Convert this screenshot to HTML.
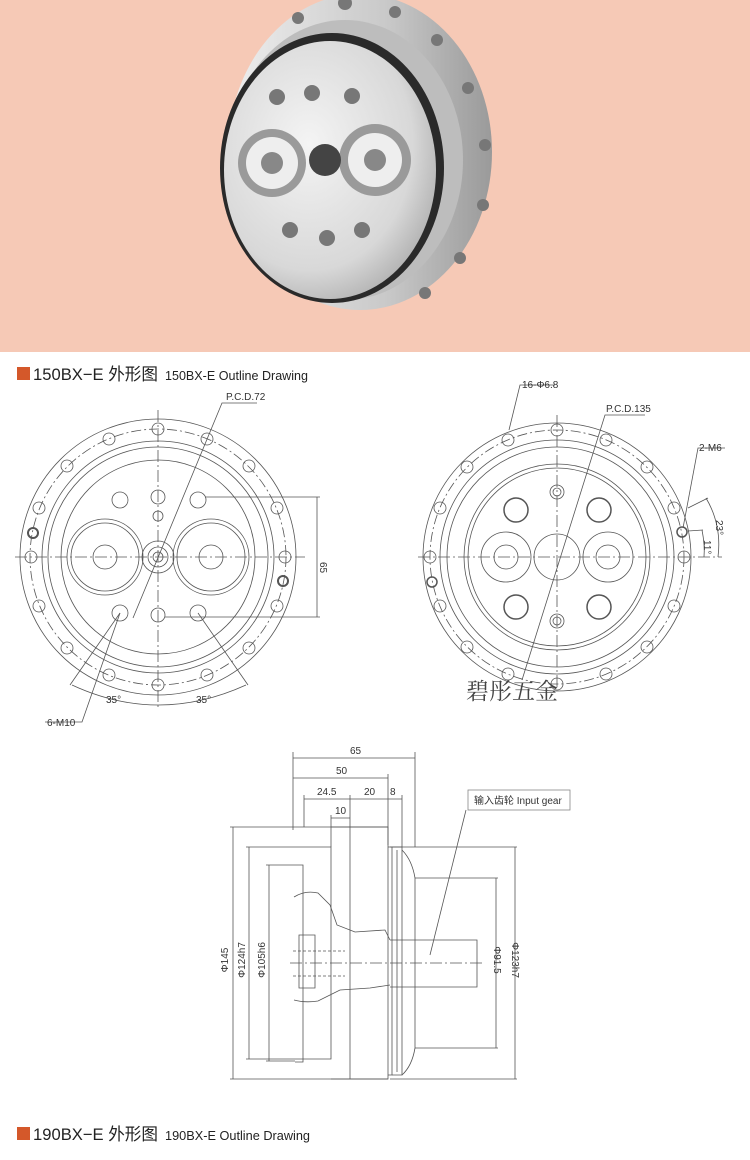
<!DOCTYPE html>
<html><head><meta charset="utf-8"><style>
body{margin:0;width:750px;height:1160px;background:#fff;overflow:hidden;font-family:"Liberation Sans","Noto Sans CJK SC",sans-serif}
svg{position:absolute;left:0;top:0}
</style></head><body>
<svg width="750" height="1160" viewBox="0 0 750 1160" font-family="Liberation Sans, Noto Sans CJK SC, sans-serif">
<defs>
<radialGradient id="met" cx="0.4" cy="0.4" r="0.7"><stop offset="0" stop-color="#f4f4f4"/><stop offset="0.7" stop-color="#d8d8d8"/><stop offset="1" stop-color="#a8a8a8"/></radialGradient>
<linearGradient id="fl" x1="0" x2="1"><stop offset="0" stop-color="#eee"/><stop offset="0.6" stop-color="#c9c9c9"/><stop offset="1" stop-color="#9a9a9a"/></linearGradient>
</defs>
<rect x="0" y="0" width="750" height="352" fill="#f6c9b6"/>
<ellipse cx="360" cy="152" rx="132" ry="158" fill="url(#fl)"/>
<ellipse cx="345" cy="160" rx="118" ry="140" fill="#bdbdbd"/>
<ellipse cx="332" cy="168" rx="112" ry="135" fill="#2a2a2a"/>
<ellipse cx="330" cy="170" rx="106" ry="129" fill="url(#met)"/>
<g fill="#777">
<circle cx="345" cy="3" r="7"/><circle cx="395" cy="12" r="6"/><circle cx="437" cy="40" r="6"/><circle cx="468" cy="88" r="6"/><circle cx="485" cy="145" r="6"/><circle cx="483" cy="205" r="6"/><circle cx="460" cy="258" r="6"/><circle cx="425" cy="293" r="6"/><circle cx="298" cy="18" r="6"/>
<circle cx="277" cy="97" r="8"/><circle cx="312" cy="93" r="8"/><circle cx="352" cy="96" r="8"/>
<circle cx="290" cy="230" r="8"/><circle cx="327" cy="238" r="8"/><circle cx="362" cy="230" r="8"/>
</g>
<circle cx="272" cy="163" r="34" fill="#9a9a9a"/><circle cx="272" cy="163" r="26" fill="#eee"/><circle cx="272" cy="163" r="11" fill="#888"/>
<circle cx="375" cy="160" r="36" fill="#9a9a9a"/><circle cx="375" cy="160" r="27" fill="#eee"/><circle cx="375" cy="160" r="11" fill="#888"/>
<circle cx="325" cy="160" r="16" fill="#444"/>
<!-- title 1 -->
<rect x="17" y="367" width="13" height="13" fill="#d4582a"/>
<text x="33" y="380" font-size="17" fill="#222" textLength="125" lengthAdjust="spacingAndGlyphs">150BX−E 外形图</text>
<text x="165" y="380" font-size="13" fill="#222" textLength="143" lengthAdjust="spacingAndGlyphs">150BX-E Outline Drawing</text>
<!-- left drawing -->
<g fill="none" stroke="#555" stroke-width="0.8">
<circle cx="158" cy="557" r="138"/><circle cx="158" cy="557" r="128" stroke-dasharray="10 3 2 3"/><circle cx="158" cy="557" r="116"/><circle cx="158" cy="557" r="110"/><circle cx="158" cy="557" r="97"/>
<circle cx="105" cy="557" r="38"/><circle cx="105" cy="557" r="34"/><circle cx="211" cy="557" r="38"/><circle cx="211" cy="557" r="34"/><circle cx="105" cy="557" r="12"/><circle cx="211" cy="557" r="12"/>
<circle cx="158" cy="557" r="16"/><circle cx="158" cy="557" r="10"/><circle cx="158" cy="557" r="5"/>
<circle cx="120" cy="500" r="8"/><circle cx="198" cy="500" r="8"/><circle cx="120" cy="613" r="8"/><circle cx="198" cy="613" r="8"/><circle cx="158" cy="497" r="7"/><circle cx="158" cy="615" r="7"/><circle cx="158" cy="516" r="5"/>
<circle cx="158" cy="429" r="6"/><circle cx="158" cy="685" r="6"/><circle cx="109" cy="439" r="6"/><circle cx="207" cy="439" r="6"/><circle cx="67" cy="466" r="6"/><circle cx="249" cy="466" r="6"/><circle cx="39" cy="508" r="6"/><circle cx="277" cy="508" r="6"/><circle cx="39" cy="606" r="6"/><circle cx="277" cy="606" r="6"/><circle cx="67" cy="648" r="6"/><circle cx="249" cy="648" r="6"/><circle cx="109" cy="675" r="6"/><circle cx="207" cy="675" r="6"/><circle cx="31" cy="557" r="6"/><circle cx="285" cy="557" r="6"/>
<circle cx="33" cy="533" r="5" stroke-width="2"/><circle cx="283" cy="581" r="5" stroke-width="2"/>
<line x1="15" y1="557" x2="305" y2="557" stroke-dasharray="12 3 2 3"/><line x1="158" y1="410" x2="158" y2="710" stroke-dasharray="12 3 2 3"/>
<line x1="205" y1="497" x2="320" y2="497"/><line x1="165" y1="617" x2="320" y2="617"/><line x1="317" y1="497" x2="317" y2="617"/>
<polyline points="257,403 222,403 133,618"/>
<line x1="70" y1="685" x2="120" y2="613"/><line x1="248" y1="685" x2="198" y2="613"/>
<path d="M72,685 Q158,725 246,685"/>
<polyline points="45,722 82,722 120,613"/>
</g>
<text x="226" y="400" font-size="10" fill="#333">P.C.D.72</text>
<text x="320" y="562" font-size="10" fill="#333" transform="rotate(90 320 562)">65</text>
<text x="106" y="703" font-size="10" fill="#333">35°</text><text x="196" y="703" font-size="10" fill="#333">35°</text>
<text x="47" y="726" font-size="10" fill="#333">6-M10</text>
<!-- right drawing -->
<g fill="none" stroke="#555" stroke-width="0.8">
<circle cx="557" cy="557" r="134"/><circle cx="557" cy="557" r="127" stroke-dasharray="10 3 2 3"/><circle cx="557" cy="557" r="117"/><circle cx="557" cy="557" r="110"/><circle cx="557" cy="557" r="93"/><circle cx="557" cy="557" r="89"/>
<circle cx="506" cy="557" r="25"/><circle cx="608" cy="557" r="25"/><circle cx="557" cy="557" r="23"/><circle cx="506" cy="557" r="12"/><circle cx="608" cy="557" r="12"/>
<circle cx="516" cy="510" r="12" stroke-width="1.5"/><circle cx="599" cy="510" r="12" stroke-width="1.5"/><circle cx="516" cy="607" r="12" stroke-width="1.5"/><circle cx="599" cy="607" r="12" stroke-width="1.5"/>
<circle cx="557" cy="492" r="7"/><circle cx="557" cy="492" r="4"/><circle cx="557" cy="621" r="7"/><circle cx="557" cy="621" r="4"/>
<circle cx="557" cy="430" r="6"/><circle cx="557" cy="684" r="6"/><circle cx="508" cy="440" r="6"/><circle cx="606" cy="440" r="6"/><circle cx="467" cy="467" r="6"/><circle cx="647" cy="467" r="6"/><circle cx="440" cy="508" r="6"/><circle cx="674" cy="508" r="6"/><circle cx="430" cy="557" r="6"/><circle cx="684" cy="557" r="6"/><circle cx="440" cy="606" r="6"/><circle cx="674" cy="606" r="6"/><circle cx="467" cy="647" r="6"/><circle cx="647" cy="647" r="6"/><circle cx="508" cy="674" r="6"/><circle cx="606" cy="674" r="6"/>
<circle cx="682" cy="532" r="5" stroke-width="1.5"/><circle cx="432" cy="582" r="5" stroke-width="1.5"/>
<line x1="418" y1="557" x2="722" y2="557" stroke-dasharray="12 3 2 3"/><line x1="557" y1="415" x2="557" y2="690" stroke-dasharray="12 3 2 3"/>
<polyline points="555,385 520,385 509,430"/>
<polyline points="645,415 605,415 522,680"/>
<polyline points="725,448 698,448 683,528"/>
<line x1="688" y1="508" x2="708" y2="498"/><line x1="688" y1="531" x2="703" y2="530"/>
<path d="M706,498 Q722,525 718,557"/><path d="M702,530 Q705,545 704,557"/>
</g>
<text x="522" y="388" font-size="10" fill="#333">16-Φ6.8</text>
<text x="606" y="412" font-size="10" fill="#333">P.C.D.135</text>
<text x="699" y="451" font-size="10" fill="#333">2-M6</text>
<text x="716" y="520" font-size="10" fill="#333" transform="rotate(90 716 520)">23°</text>
<text x="704" y="540" font-size="10" fill="#333" transform="rotate(90 704 540)">11°</text>
<text x="466" y="699" font-size="23" fill="#444" font-family="Noto Serif CJK SC, serif">碧彤五金</text>
<!-- side view -->
<g fill="none" stroke="#555" stroke-width="0.8">
<!-- dimension lines -->
<line x1="293" y1="752" x2="293" y2="830"/><line x1="415" y1="752" x2="415" y2="847"/>
<line x1="293" y1="758" x2="415" y2="758"/>
<line x1="293" y1="778" x2="388" y2="778"/><line x1="388" y1="774" x2="388" y2="845"/>
<line x1="304" y1="799" x2="402" y2="799"/><line x1="304" y1="795" x2="304" y2="827"/><line x1="350" y1="795" x2="350" y2="827"/><line x1="402" y1="795" x2="402" y2="847"/>
<line x1="331" y1="818" x2="350" y2="818"/><line x1="331" y1="815" x2="331" y2="847"/>
<line x1="230" y1="827" x2="388" y2="827"/><line x1="230" y1="1079" x2="388" y2="1079"/><line x1="233" y1="827" x2="233" y2="1079"/>
<line x1="246" y1="847" x2="303" y2="847"/><line x1="246" y1="1059" x2="303" y2="1059"/><line x1="249" y1="847" x2="249" y2="1059"/>
<line x1="266" y1="865" x2="295" y2="865"/><line x1="266" y1="1061" x2="295" y2="1061"/><line x1="269" y1="865" x2="269" y2="1061"/>
<line x1="390" y1="847" x2="517" y2="847"/><line x1="390" y1="1079" x2="517" y2="1079"/><line x1="515" y1="847" x2="515" y2="1079"/>
<line x1="415" y1="878" x2="498" y2="878"/><line x1="415" y1="1048" x2="498" y2="1048"/><line x1="496" y1="878" x2="496" y2="1048"/>
<!-- body -->
<path d="M295,865 H303 V1062 H295"/>
<path d="M303,847 H331 V1059 H303"/>
<path d="M331,827 H350 V1079 H331"/>
<path d="M350,827 H388 V1079 H350"/>
<path d="M388,847 H392 V1075 H388"/>
<path d="M392,847 H402 V1075 H392"/><path d="M397,850 V1072"/>
<path d="M402,850 Q412,860 415,878 V1048 Q412,1066 402,1075"/>
<!-- gear/shaft profile -->
<path d="M294,897 Q305,890 318,893 L330,905 L337,925 L355,932 L385,930 L390,940"/>
<path d="M294,1000 Q305,1003 318,1001 L330,995 L340,990 L370,988 L390,985"/>
<path d="M299,935 H315 V988 H299 Z"/>
<path d="M390,940 H477 V987 H390"/>
<line x1="290" y1="963" x2="482" y2="963" stroke-dasharray="12 3 2 3"/>
<line x1="293" y1="951" x2="345" y2="951" stroke-dasharray="3 2"/><line x1="293" y1="976" x2="345" y2="976" stroke-dasharray="3 2"/>
<polyline points="430,955 466,810"/>
</g>
<rect x="468" y="790" width="102" height="20" fill="#fff" stroke="#888" stroke-width="0.8"/>
<text x="474" y="804" font-size="10" fill="#333">输入齿轮 Input gear</text>
<text x="350" y="754" font-size="10" fill="#333">65</text>
<text x="336" y="774" font-size="10" fill="#333">50</text>
<text x="317" y="795" font-size="10" fill="#333">24.5</text><text x="364" y="795" font-size="10" fill="#333">20</text><text x="390" y="795" font-size="10" fill="#333">8</text>
<text x="335" y="814" font-size="10" fill="#333">10</text>
<text x="228" y="960" font-size="10" fill="#333" transform="rotate(-90 228 960)" text-anchor="middle">Φ145</text>
<text x="245" y="960" font-size="10" fill="#333" transform="rotate(-90 245 960)" text-anchor="middle">Φ124h7</text>
<text x="265" y="960" font-size="10" fill="#333" transform="rotate(-90 265 960)" text-anchor="middle">Φ105h6</text>
<text x="494" y="960" font-size="10" fill="#333" transform="rotate(90 494 960)" text-anchor="middle">Φ91.5</text>
<text x="512" y="960" font-size="10" fill="#333" transform="rotate(90 512 960)" text-anchor="middle">Φ123h7</text>
<!-- title 2 -->
<rect x="17" y="1127" width="13" height="13" fill="#d4582a"/>
<text x="33" y="1140" font-size="17" fill="#222" textLength="125" lengthAdjust="spacingAndGlyphs">190BX−E 外形图</text>
<text x="165" y="1140" font-size="13" fill="#222" textLength="145" lengthAdjust="spacingAndGlyphs">190BX-E Outline Drawing</text>
</svg>
</body></html>
